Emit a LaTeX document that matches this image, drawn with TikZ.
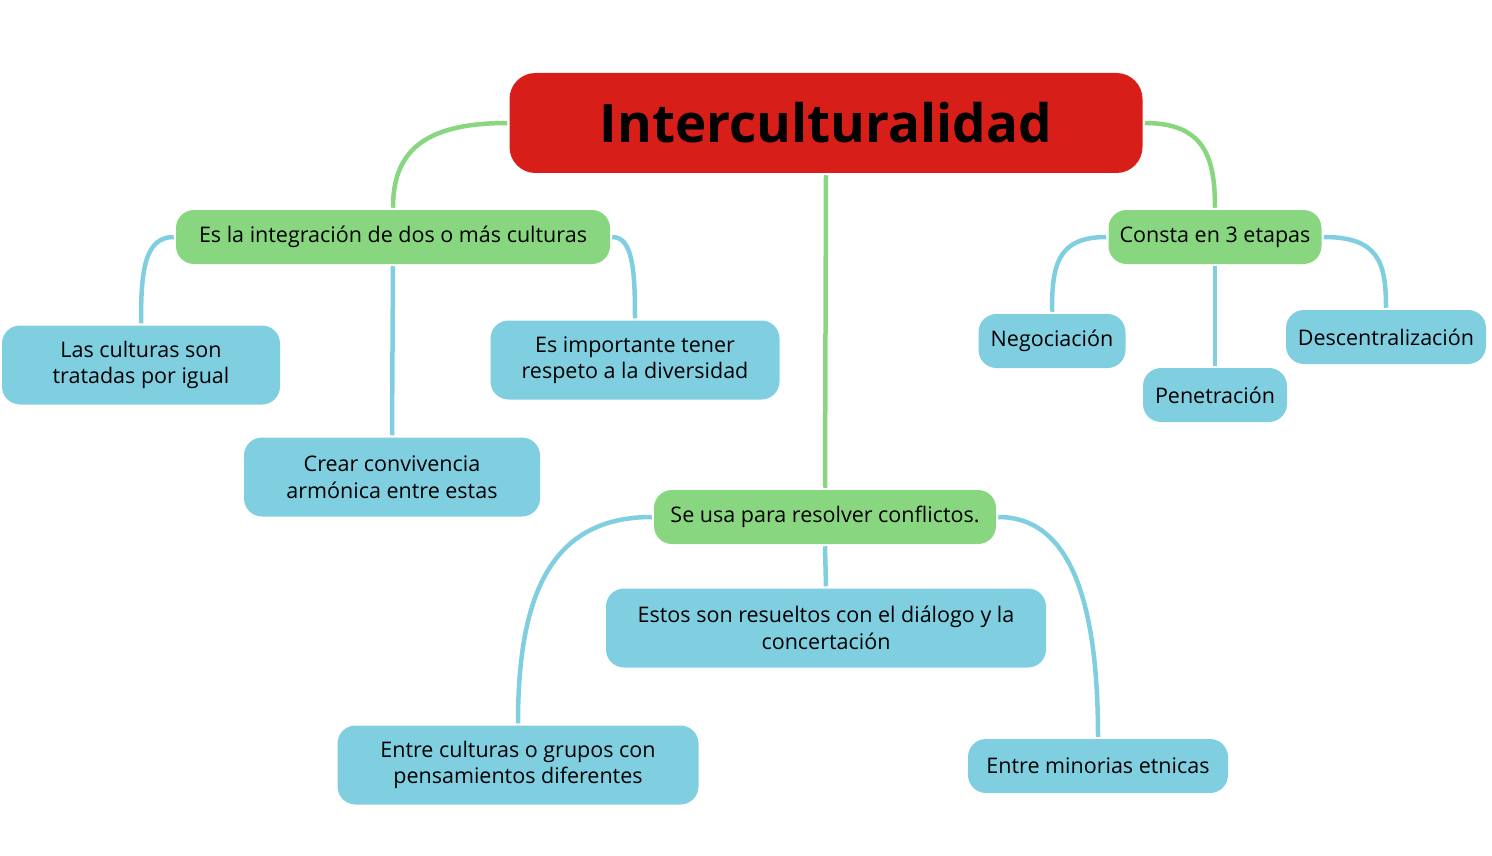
\documentclass[tikz,border=0pt]{standalone}
\usepackage{fontspec}
\setmainfont{Open Sans}
\newfontfamily\titlefont{Open Sans Bold}
\definecolor{rootred}{RGB}{216,30,24}
\definecolor{mapgreen}{RGB}{137,214,128}
\definecolor{mapblue}{RGB}{128,207,225}

\begin{document}
\begin{tikzpicture}
[x=1pt,y=-1pt,line width=4.5pt,%
  every node/.style={rounded corners=18pt,align=center,inner sep=4pt,%
    font=\fontsize{21.5}{26.5}\selectfont},%
  rootbox/.style={fill=rootred,rounded corners=26pt,minimum width=633pt,minimum height=100pt,%
    font=\titlefont\fontsize{53}{60}\selectfont},%
  greenbox/.style={fill=mapgreen,minimum height=54pt},%
  bluebox/.style={fill=mapblue,minimum height=54pt},%
  twoline/.style={minimum height=79pt},%
  greenlink/.style={draw=mapgreen},%
  bluelink/.style={draw=mapblue}]
\useasboundingbox (0,0) rectangle (1492,856);
% main topic
\node[rootbox] (root) at (826,123) {Interculturalidad};
% second level
\node[greenbox,minimum width=434pt] (integr) at (393,237) {Es la integración de dos o más culturas};
\node[greenbox,minimum width=213pt] (etapas) at (1215,237) {Consta en 3 etapas};
\node[greenbox,minimum width=342pt] (conflict) at (825,517) {Se usa para resolver conflictos.};
% leaves
\node[bluebox,twoline,minimum width=278pt] (igual) at (141,365) {Las culturas son\\tratadas por igual};
\node[bluebox,twoline,minimum width=296pt] (conviv) at (392,477) {Crear convivencia\\armónica entre estas};
\node[bluebox,twoline,minimum width=289pt] (respeto) at (635,360) {Es importante tener\\respeto a la diversidad};
\node[bluebox,minimum width=147pt] (negoc) at (1052,341) {Negociación};
\node[bluebox,minimum width=144pt] (penet) at (1215,395) {Penetración};
\node[bluebox,minimum width=200pt] (descen) at (1386,337) {Descentralización};
\node[bluebox,twoline,minimum width=440pt] (dialogo) at (826,628) {Estos son resueltos con el diálogo y la\\concertación};
\node[bluebox,twoline,minimum width=361pt] (grupos) at (518,765) {Entre culturas o grupos con\\pensamientos diferentes};
\node[bluebox,minimum width=260pt] (etnicas) at (1098,766) {Entre minorias etnicas};
% connectors
\draw[greenlink] (root.west) .. controls +(-85,0) and +(0,-55) .. (integr.north);
\draw[greenlink] (root.east) .. controls +(60,0) and +(0,-50) .. (etapas.north);
\draw[greenlink] (root.south) -- (conflict.north);
\draw[bluelink] (integr.west) .. controls +(-30,0) and +(0,-50) .. (igual.north);
\draw[bluelink] (integr.south) -- (conviv.north);
\draw[bluelink] (integr.east) .. controls +(20,0) and +(0,-50) .. (respeto.north);
\draw[bluelink] (etapas.west) .. controls +(-50,0) and +(0,-45) .. (negoc.north);
\draw[bluelink] (etapas.south) -- (penet.north);
\draw[bluelink] (etapas.east) .. controls +(55,0) and +(0,-45) .. (descen.north);
\draw[bluelink] (conflict.west) .. controls +(-100,0) and +(0,-130) .. (grupos.north);
\draw[bluelink] (conflict.south) -- (dialogo.north);
\draw[bluelink] (conflict.east) .. controls +(70,0) and +(0,-140) .. (etnicas.north);
\end{tikzpicture}
\end{document}
